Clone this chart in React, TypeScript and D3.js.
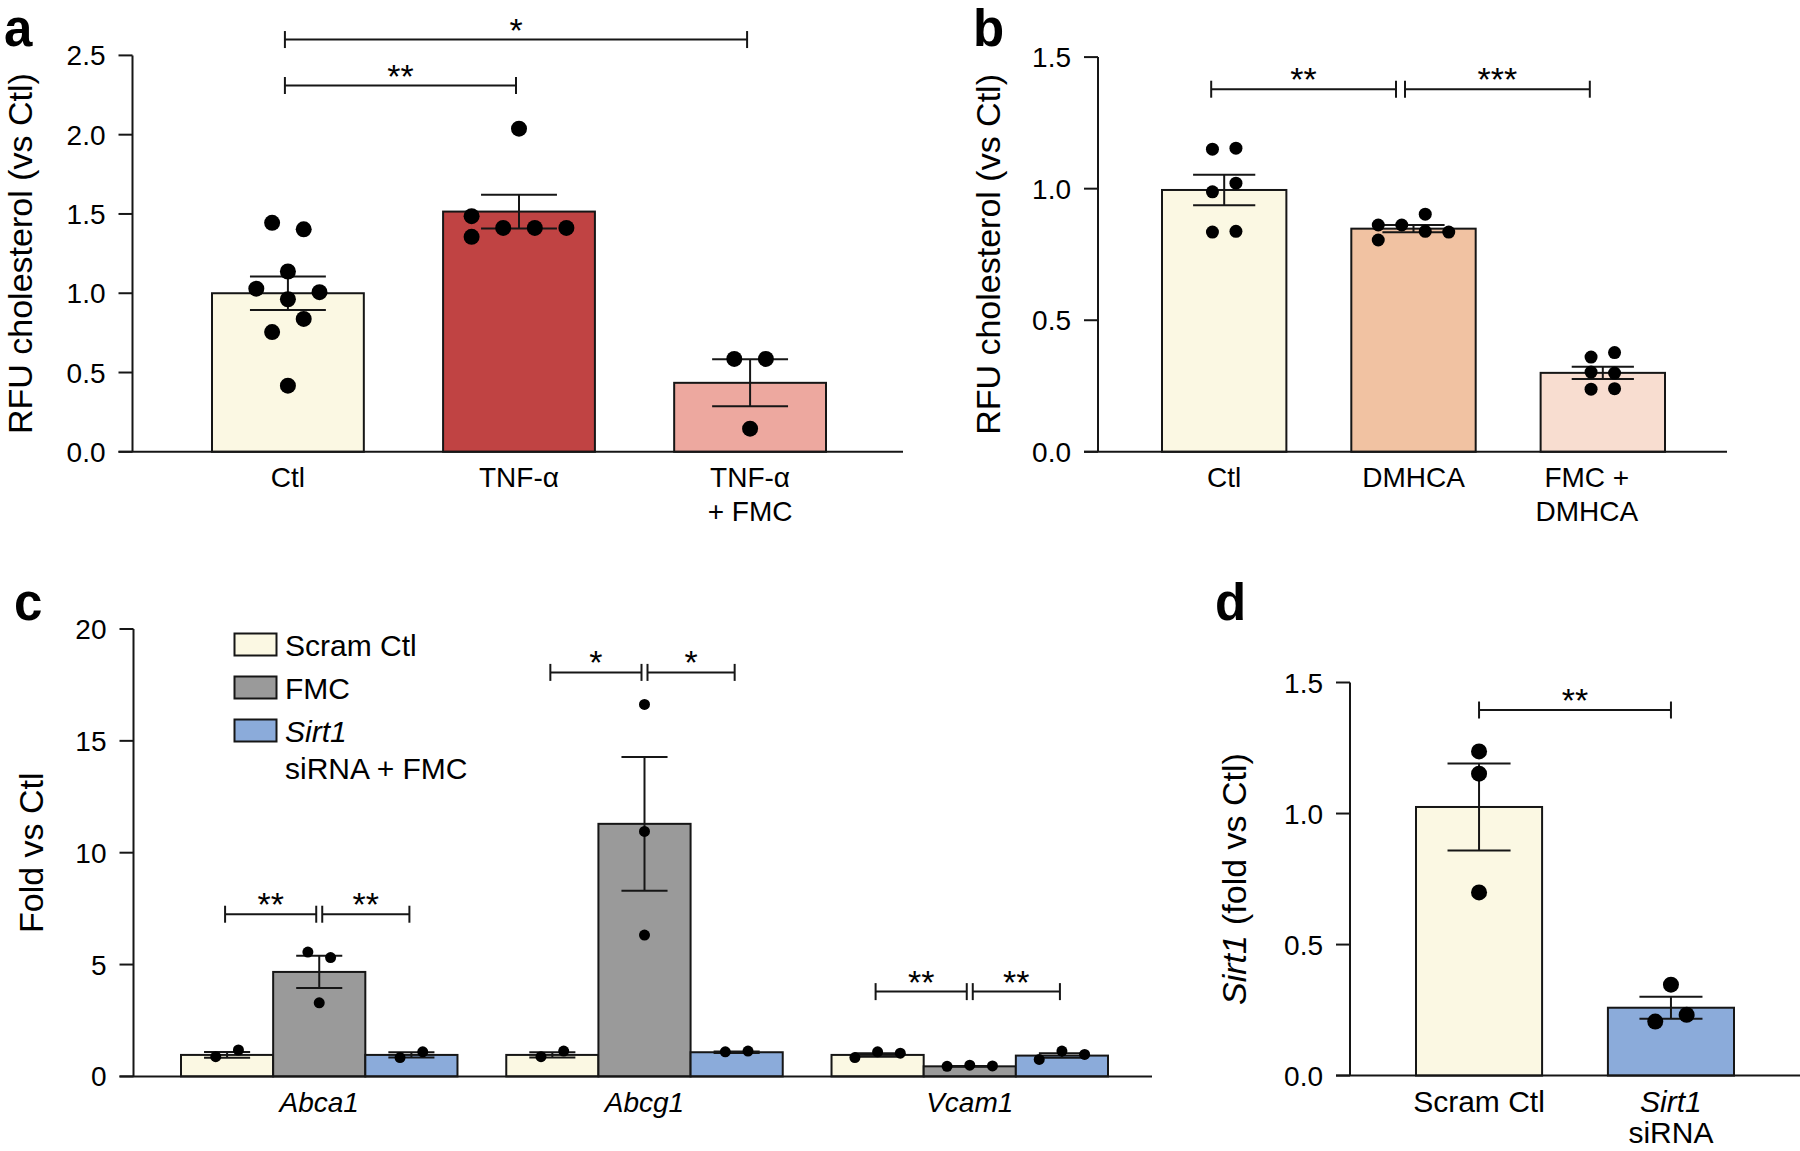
import React from 'react'
import { scaleBand, scaleLinear, format } from 'd3'

const FONT = '"Liberation Sans", Arial, Helvetica, sans-serif'
const INK = '#161616'

// ---- panel a : cholesterol, TNF-α
const aCategories = ['Ctl', 'TNF-α', 'TNF-α + FMC']
const aTickLabels = [['Ctl'], ['TNF-α'], ['TNF-α', '+ FMC']]
const aMeans = [1.0, 1.515, 0.435]
const aSems = [0.105, 0.106, 0.148]
const aPoints = [
  [1.444, 1.403, 1.137, 1.029, 0.962, 1.007, 0.755, 0.838, 0.417],
  [2.038, 1.356, 1.486, 1.412, 1.412, 1.412],
  [0.586, 0.586, 0.146]
]
const aYTicks = [0, 0.5, 1, 1.5, 2, 2.5]
const aBrackets = [
  { from: 0, to: 1, level: 2.31, stars: '**' },
  { from: 0, to: 2, level: 2.6, stars: '*' }
]
const aFills = ['#FBF8E3', '#C04343', '#EDA89F']

// ---- panel b : cholesterol, DMHCA
const bCategories = ['Ctl', 'DMHCA', 'FMC + DMHCA']
const bTickLabels = [['Ctl'], ['DMHCA'], ['FMC +', 'DMHCA']]
const bMeans = [0.995, 0.848, 0.3]
const bSems = [0.058, 0.014, 0.023]
const bPoints = [
  [1.15, 1.154, 0.988, 1.021, 0.835, 0.838],
  [0.805, 0.862, 0.862, 0.838, 0.835, 0.903],
  [0.36, 0.377, 0.303, 0.299, 0.238, 0.24]
]
const bYTicks = [0, 0.5, 1, 1.5]
const bBrackets = [
  { from: 0, to: 1, level: 1.378, stars: '**' },
  { from: 1, to: 2, level: 1.378, stars: '***' }
]
const bFills = ['#FBF8E3', '#F1C2A2', '#F8DDD0']

// ---- panel c : gene expression
const cGenes = ['Abca1', 'Abcg1', 'Vcam1']
const cSeries = ['Scram Ctl', 'FMC', 'Sirt1 siRNA + FMC']
const cScramMeans = [0.96, 0.96, 0.96]
const cScramSems = [0.13, 0.12, 0.08]
const cScramPoints = [[0.88, 1.18], [0.88, 1.13], [0.84, 1.1, 1.04]]
const cFmcMeans = [4.67, 11.29, 0.45]
const cFmcSems = [0.72, 2.99, 0.02]
const cFmcPoints = [[5.56, 5.31, 3.29], [16.63, 10.95, 6.32], [0.45, 0.5, 0.47]]
const cSirtMeans = [0.96, 1.08, 0.93]
const cSirtSems = [0.12, 0.03, 0.1]
const cSirtPoints = [[0.84, 1.1], [1.1, 1.13], [0.76, 1.13, 0.98]]
const cYTicks = [0, 5, 10, 15, 20]
const cBrackets = [
  { gene: 0, from: 0, to: 1, level: 7.25, stars: '**' },
  { gene: 0, from: 1, to: 2, level: 7.25, stars: '**' },
  { gene: 1, from: 0, to: 1, level: 18.06, stars: '*' },
  { gene: 1, from: 1, to: 2, level: 18.06, stars: '*' },
  { gene: 2, from: 0, to: 1, level: 3.79, stars: '**' },
  { gene: 2, from: 1, to: 2, level: 3.79, stars: '**' }
]
const cFills = ['#FBF8E3', '#9A9A9A', '#8BABDA']

// ---- panel d : Sirt1 knockdown
const dCategories = ['Scram Ctl', 'Sirt1 siRNA']
const dMeans = [1.025, 0.259]
const dSems = [0.166, 0.042]
const dPoints = [
  [1.237, 1.152, 0.699],
  [0.347, 0.206, 0.232]
]
const dYTicks = [0, 0.5, 1, 1.5]
const dBrackets = [{ from: 0, to: 1, level: 1.395, stars: '**' }]
const dFills = ['#FBF8E3', '#8BABDA']

type Bracket = { from: number; to: number; level: number; stars: string }

// points closer than one dot are spread into columns, centred on the bar
function swarm(values: number[], y: (v: number) => number, r: number, step: number) {
  const items = values.map((v, i) => ({ i, cy: y(v) }))
  const byY = [...items].sort((p, q) => p.cy - q.cy)
  const dx: number[] = values.map(() => 0)
  let group: { i: number; cy: number }[] = []
  const place = () => {
    const g = [...group].sort((p, q) => p.i - q.i)
    const cols: { i: number; cy: number }[][] = []
    const colOf: number[] = []
    g.forEach((p) => {
      let c = cols.findIndex((col) => col.every((o) => Math.abs(o.cy - p.cy) >= 2 * r))
      if (c < 0) {
        cols.push([])
        c = cols.length - 1
      }
      cols[c].push(p)
      colOf.push(c)
    })
    g.forEach((p, k) => {
      dx[p.i] = (colOf[k] - (cols.length - 1) / 2) * step
    })
    group = []
  }
  byY.forEach((p) => {
    if (group.length && p.cy - group[group.length - 1].cy >= 2 * r) place()
    group.push(p)
  })
  place()
  return items.map((p) => ({ cy: p.cy, dx: dx[p.i] }))
}

const Bar: React.FC<{
  x: number
  w: number
  y: (v: number) => number
  mean: number
  sem: number
  fill: string
}> = ({ x, w, y, mean, sem, fill }) => {
  const c = x + w / 2
  const cap = w * 0.25
  return (
    <g>
      <rect x={x} y={y(mean)} width={w} height={y(0) - y(mean)} fill={fill} stroke={INK} strokeWidth={2} />
      <line x1={c} x2={c} y1={y(mean - sem)} y2={y(mean + sem)} stroke={INK} strokeWidth={2} />
      <line x1={c - cap} x2={c + cap} y1={y(mean + sem)} y2={y(mean + sem)} stroke={INK} strokeWidth={2} />
      <line x1={c - cap} x2={c + cap} y1={y(mean - sem)} y2={y(mean - sem)} stroke={INK} strokeWidth={2} />
    </g>
  )
}

const Dots: React.FC<{ cx: number; values: number[]; y: (v: number) => number; r: number; step: number }> = ({
  cx,
  values,
  y,
  r,
  step
}) => (
  <g>
    {swarm(values, y, r, step).map((p, i) => (
      <circle key={i} cx={cx + p.dx} cy={p.cy} r={r} fill="#000" />
    ))}
  </g>
)

const SigBracket: React.FC<{ x1: number; x2: number; y: number; stars: string }> = ({ x1, x2, y, stars }) => (
  <g>
    <line x1={x1} x2={x2} y1={y} y2={y} stroke={INK} strokeWidth={2} />
    <line x1={x1} x2={x1} y1={y - 8.5} y2={y + 8.5} stroke={INK} strokeWidth={2} />
    <line x1={x2} x2={x2} y1={y - 8.5} y2={y + 8.5} stroke={INK} strokeWidth={2} />
    <text x={(x1 + x2) / 2} y={y + 2} textAnchor="middle" fontSize={34}>
      {stars}
    </text>
  </g>
)

const YAxis: React.FC<{
  axisX: number
  xEnd: number
  y: any
  ticks: number[]
  fmt: (v: number) => string
}> = ({ axisX, xEnd, y, ticks, fmt }) => {
  const [y0, y1] = y.range()
  return (
    <g>
      <line x1={axisX} x2={axisX} y1={y0} y2={y1} stroke={INK} strokeWidth={2} />
      <line x1={axisX - 14} x2={xEnd} y1={y0} y2={y0} stroke={INK} strokeWidth={2} />
      {ticks.map((t) => (
        <g key={t}>
          <line x1={axisX - 14} x2={axisX} y1={y(t)} y2={y(t)} stroke={INK} strokeWidth={2} />
          <text x={axisX - 27} y={y(t)} dy="0.36em" textAnchor="end" fontSize={28}>
            {fmt(t)}
          </text>
        </g>
      ))}
    </g>
  )
}

type SimpleProps = {
  letter: string
  letterPos: [number, number]
  axisX: number
  xEnd: number
  yRange: [number, number]
  yMax: number
  ticks: number[]
  tickFormat: string
  barRange: [number, number]
  categories: string[]
  labels: React.ReactNode[][]
  labelSize: number
  labelOffset: number
  lineGap: number
  labelDx?: number[]
  means: number[]
  sems: number[]
  points: number[][]
  fills: string[]
  brackets: Bracket[]
  bracketShift: number
  r: number
  step: number
  title: React.ReactNode
  titleX: number
}

const SimplePanel: React.FC<SimpleProps> = (p) => {
  const y = scaleLinear().domain([0, p.yMax]).range(p.yRange)
  const x = scaleBand<string>().domain(p.categories).range(p.barRange).paddingInner(0.343).paddingOuter(0)
  const w = x.bandwidth()
  const cx = (i: number) => (x(p.categories[i]) as number) + w / 2
  const fmt = format(p.tickFormat)
  const shared = (b: Bracket, end: number) =>
    p.brackets.some((o) => o !== b && o.level === b.level && (o.from === end || o.to === end))
  return (
    <g>
      <text x={p.letterPos[0]} y={p.letterPos[1]} fontSize={51} fontWeight="bold">
        {p.letter}
      </text>
      <text
        transform={`translate(${p.titleX},${(p.yRange[0] + p.yRange[1]) / 2}) rotate(-90)`}
        textAnchor="middle"
        fontSize={34}
      >
        {p.title}
      </text>
      {p.categories.map((c, i) => (
        <Bar key={c} x={x(c) as number} w={w} y={y} mean={p.means[i]} sem={p.sems[i]} fill={p.fills[i]} />
      ))}
      {p.points.map((vals, i) => (
        <Dots key={i} cx={cx(i)} values={vals} y={y} r={p.r} step={p.step} />
      ))}
      <YAxis axisX={p.axisX} xEnd={p.xEnd} y={y} ticks={p.ticks} fmt={fmt} />
      {p.labels.map((lines, i) => (
        <text
          key={i}
          x={cx(i) + (p.labelDx ? p.labelDx[i] : 0)}
          y={p.yRange[0] + p.labelOffset}
          textAnchor="middle"
          fontSize={p.labelSize}
        >
          {lines.map((l, k) => (
            <tspan key={k} x={cx(i) + (p.labelDx ? p.labelDx[i] : 0)} dy={k === 0 ? 0 : p.lineGap}>
              {l}
            </tspan>
          ))}
        </text>
      ))}
      {p.brackets.map((b, i) => (
        <SigBracket
          key={i}
          x1={cx(b.from) + p.bracketShift + (shared(b, b.from) ? 4.5 : 0)}
          x2={cx(b.to) + p.bracketShift - (shared(b, b.to) ? 4.5 : 0)}
          y={y(b.level)}
          stars={b.stars}
        />
      ))}
    </g>
  )
}

const GroupedPanel: React.FC = () => {
  const y = scaleLinear().domain([0, 20]).range([1076.4, 629])
  const gx = scaleBand<string>().domain(cGenes).range([181, 1108]).paddingInner(0.15).paddingOuter(0)
  const sx = scaleBand<string>().domain(cSeries).range([0, gx.bandwidth()]).padding(0)
  const w = sx.bandwidth()
  const means = [cScramMeans, cFmcMeans, cSirtMeans]
  const sems = [cScramSems, cFmcSems, cSirtSems]
  const points = [cScramPoints, cFmcPoints, cSirtPoints]
  const bx = (g: number, s: number) => (gx(cGenes[g]) as number) + (sx(cSeries[s]) as number)
  const fmt = format('d')
  return (
    <g>
      <text x={14} y={620} fontSize={51} fontWeight="bold">
        c
      </text>
      <text transform={`translate(43,${(1076.4 + 629) / 2}) rotate(-90)`} textAnchor="middle" fontSize={34}>
        Fold vs Ctl
      </text>
      {cGenes.map((g, gi) =>
        cSeries.map((s, si) => (
          <Bar
            key={g + s}
            x={bx(gi, si)}
            w={w}
            y={y}
            mean={means[si][gi]}
            sem={sems[si][gi]}
            fill={cFills[si]}
          />
        ))
      )}
      {cGenes.map((g, gi) =>
        cSeries.map((s, si) => (
          <Dots key={g + s} cx={bx(gi, si) + w / 2} values={points[si][gi]} y={y} r={5.5} step={22.7} />
        ))
      )}
      <YAxis axisX={133.5} xEnd={1152} y={y} ticks={cYTicks} fmt={fmt} />
      {cGenes.map((g) => (
        <text
          key={g}
          x={(gx(g) as number) + gx.bandwidth() / 2}
          y={1112}
          textAnchor="middle"
          fontSize={28}
          fontStyle="italic"
        >
          {g}
        </text>
      ))}
      {cBrackets.map((b, i) => (
        <SigBracket
          key={i}
          x1={bx(b.gene, b.from) + w / 2 + (b.from === 1 ? 3 : -2)}
          x2={bx(b.gene, b.to) + w / 2 - (b.to === 1 ? 3 : 2)}
          y={y(b.level)}
          stars={b.stars}
        />
      ))}
      {cSeries.map((s, i) => (
        <g key={s}>
          <rect
            x={234.5}
            y={633.5 + i * 43}
            width={42}
            height={22}
            fill={cFills[i]}
            stroke={INK}
            strokeWidth={2}
          />
          <text x={285} y={655.5 + i * 43} fontSize={30}>
            {i === 2 ? <tspan fontStyle="italic">Sirt1</tspan> : s}
          </text>
        </g>
      ))}
      <text x={285} y={778.5} fontSize={30}>
        siRNA + FMC
      </text>
    </g>
  )
}

export default function App() {
  return (
    <svg
      width={1800}
      height={1151}
      style={{ position: 'absolute', left: 0, top: 0, background: '#fff' }}
      fontFamily={FONT}
      fill="#000"
    >
      <rect width={1800} height={1151} fill="#fff" />
      <SimplePanel
        letter="a"
        letterPos={[4, 46]}
        axisX={132.5}
        xEnd={903}
        yRange={[451.8, 55.4]}
        yMax={2.5}
        ticks={aYTicks}
        tickFormat=".1f"
        barRange={[212, 826]}
        categories={aCategories}
        labels={aTickLabels}
        labelSize={28}
        labelOffset={34.7}
        lineGap={34.2}
        means={aMeans}
        sems={aSems}
        points={aPoints}
        fills={aFills}
        brackets={aBrackets}
        bracketShift={-3}
        r={8}
        step={31.6}
        title="RFU cholesterol (vs Ctl)"
        titleX={31.5}
      />
      <SimplePanel
        letter="b"
        letterPos={[973, 46]}
        axisX={1098}
        xEnd={1727}
        yRange={[451.8, 57.1]}
        yMax={1.5}
        ticks={bYTicks}
        tickFormat=".1f"
        barRange={[1162, 1665]}
        categories={bCategories}
        labels={bTickLabels}
        labelSize={28}
        labelOffset={35.2}
        lineGap={34.2}
        labelDx={[0, 0, -16]}
        means={bMeans}
        sems={bSems}
        points={bPoints}
        fills={bFills}
        brackets={bBrackets}
        bracketShift={-13}
        r={6.5}
        step={23.5}
        title="RFU cholesterol (vs Ctl)"
        titleX={1000}
      />
      <GroupedPanel />
      <SimplePanel
        letter="d"
        letterPos={[1215, 620]}
        axisX={1350}
        xEnd={1800}
        yRange={[1075.6, 682.5]}
        yMax={1.5}
        ticks={dYTicks}
        tickFormat=".1f"
        barRange={[1416, 1734]}
        categories={dCategories}
        labels={[['Scram Ctl'], [<tspan fontStyle="italic">Sirt1</tspan>, 'siRNA']]}
        labelSize={30}
        labelOffset={36.5}
        lineGap={31}
        means={dMeans}
        sems={dSems}
        points={dPoints}
        fills={dFills}
        brackets={dBrackets}
        bracketShift={0}
        r={8}
        step={31.4}
        title={
          <>
            <tspan fontStyle="italic">Sirt1</tspan>
            <tspan dx={10}>(fold vs Ctl)</tspan>
          </>
        }
        titleX={1246}
      />
    </svg>
  )
}
